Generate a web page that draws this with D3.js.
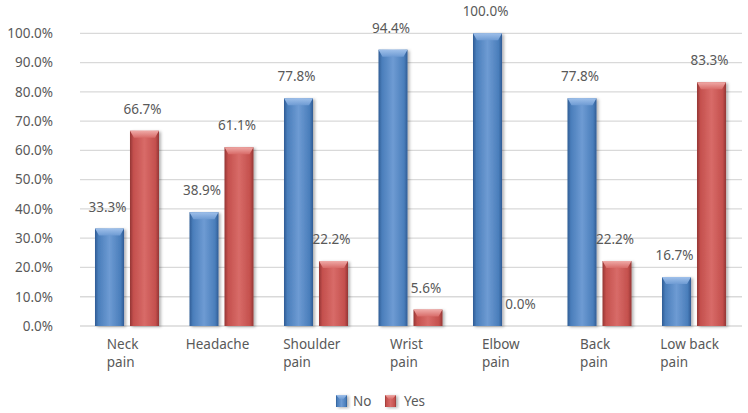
<!DOCTYPE html>
<html>
<head>
<meta charset="utf-8">
<script src="https://cdn.jsdelivr.net/npm/d3@7"></script>
<style>
  body { margin: 0; background: #fff; }
  text { font-family: "Noto Sans", sans-serif; fill: #595959; }
</style>
</head>
<body>
<div id="chart"></div>
<script>
// values
const categories = ["Neck pain", "Headache", "Shoulder pain", "Wrist pain", "Elbow pain", "Back pain", "Low back pain"];
const categoryLines = [["Neck", "pain"], ["Headache"], ["Shoulder", "pain"], ["Wrist", "pain"], ["Elbow", "pain"], ["Back", "pain"], ["Low back", "pain"]];
const series = ["No", "Yes"];
const noValues = [33.3, 38.9, 77.8, 94.4, 100.0, 77.8, 16.7];
const yesValues = [66.7, 61.1, 22.2, 5.6, 0.0, 22.2, 83.3];
const yTicks = [0, 10, 20, 30, 40, 50, 60, 70, 80, 90, 100];

const w = 748, h = 413;

const colors = {
  No:  { base: "#4a7ebb", dark: "#2f5c95", light: "#6e9bd3", top: "#9fc0ea" },
  Yes: { base: "#c4504d", dark: "#943634", light: "#d86b68", top: "#efaaa7" }
};

const svg = d3.select("#chart").append("svg")
  .attr("width", w)
  .attr("height", h);

const defs = svg.append("defs");
series.forEach(s => {
  const c = colors[s];
  const g = defs.append("linearGradient").attr("id", "body-" + s)
    .attr("x1", 0).attr("x2", 1).attr("y1", 0).attr("y2", 0);
  g.append("stop").attr("offset", "0%").attr("stop-color", c.dark);
  g.append("stop").attr("offset", "12%").attr("stop-color", c.base);
  g.append("stop").attr("offset", "50%").attr("stop-color", c.light);
  g.append("stop").attr("offset", "88%").attr("stop-color", c.base);
  g.append("stop").attr("offset", "100%").attr("stop-color", c.dark);
  const t = defs.append("linearGradient").attr("id", "top-" + s)
    .attr("x1", 0).attr("x2", 0).attr("y1", 0).attr("y2", 1);
  t.append("stop").attr("offset", "0%").attr("stop-color", c.top);
  t.append("stop").attr("offset", "100%").attr("stop-color", c.light);
});
const shadow = defs.append("filter").attr("id", "shadow")
  .attr("x", "-20%").attr("y", "-10%").attr("width", "150%").attr("height", "130%");
shadow.append("feDropShadow").attr("dx", 2).attr("dy", 1).attr("stdDeviation", 1.5)
  .attr("flood-color", "#000").attr("flood-opacity", 0.3);

const x0 = d3.scaleBand()
  .domain(categories)
  .range([80, 741])
  .paddingInner(0.3228)
  .paddingOuter(0.1587);

const x1 = d3.scaleBand()
  .domain(series)
  .range([0, x0.bandwidth()])
  .paddingInner(0.171);

const y = d3.scaleLinear()
  .domain([0, 100])
  .range([326, 33.3]);

// gridlines
svg.append("g")
  .selectAll("line")
  .data(yTicks)
  .enter().append("line")
  .attr("x1", 80)
  .attr("x2", 742)
  .attr("y1", d => y(d))
  .attr("y2", d => y(d))
  .attr("stroke", "#d9d9d9")
  .attr("stroke-width", 1.3);

// y axis
const yAxis = svg.append("g")
  .attr("transform", "translate(56,0)")
  .call(d3.axisLeft(y).tickValues(yTicks).tickSize(0).tickPadding(3).tickFormat(d => d.toFixed(1) + "%"));
yAxis.select(".domain").remove();
yAxis.selectAll("text").style("font-size", "13.5px").style("fill", "#595959")
  .style("font-family", "'Noto Sans', sans-serif");

const rows = categories.map((c, i) => ({ cat: c, values: [
  { s: "No", v: noValues[i] }, { s: "Yes", v: yesValues[i] }
]}));

const groups = svg.append("g").selectAll("g")
  .data(rows)
  .enter().append("g")
  .attr("transform", d => "translate(" + x0(d.cat) + ",0)");

const bars = groups.selectAll("g.bar")
  .data(d => d.values)
  .enter().append("g")
  .attr("class", "bar");

const bw = x1.bandwidth();
const bevel = 7;

bars.filter(d => d.v > 0)
  .append("rect")
  .attr("x", d => x1(d.s))
  .attr("y", d => y(d.v))
  .attr("width", bw)
  .attr("height", d => y(0) - y(d.v))
  .attr("fill", d => "url(#body-" + d.s + ")")
  .attr("filter", "url(#shadow)");

bars.filter(d => d.v > 0)
  .append("path")
  .attr("d", d => {
    const xa = x1(d.s), xb = xa + bw, yt = y(d.v);
    const bh = Math.min(bevel, (y(0) - yt) / 2);
    return "M" + xa + "," + yt + "L" + xb + "," + yt +
      "L" + (xb - 4) + "," + (yt + bh) + "L" + (xa + 4) + "," + (yt + bh) + "Z";
  })
  .attr("fill", d => "url(#top-" + d.s + ")");

// value labels
bars.append("text")
  .attr("x", d => x1(d.s) + bw / 2 - 2)
  .attr("y", d => y(d.v) - 17)
  .attr("text-anchor", "middle")
  .style("font-size", "13.5px")
  .text(d => d.v.toFixed(1) + "%");

// category labels, lines left aligned inside a centered block
groups.each(function(d, i) {
  const g = d3.select(this);
  const t = g.append("text")
    .style("font-size", "13.5px");
  categoryLines[i].forEach((line, j) => {
    t.append("tspan")
      .attr("x", 0)
      .attr("y", 349 + j * 18)
      .text(line);
  });
  const bw2 = t.node().getBBox().width;
  t.attr("transform", "translate(" + (x0.bandwidth() / 2 - 4 - bw2 / 2) + ",0)");
});

// legend
const legend = svg.append("g").attr("transform", "translate(336,395)");
const items = legend.selectAll("g")
  .data(series)
  .enter().append("g")
  .attr("transform", (d, i) => "translate(" + (i * 49) + ",0)");
items.append("rect")
  .attr("width", 11)
  .attr("height", 12)
  .attr("fill", d => "url(#body-" + d + ")")
  .attr("filter", "url(#shadow)");
items.append("path")
  .attr("d", "M0,0L11,0L7.5,4L3.5,4Z")
  .attr("fill", d => "url(#top-" + d + ")");
items.append("text")
  .attr("x", (d, i) => i === 0 ? 17 : 19)
  .attr("y", 6)
  .attr("dy", "0.35em")
  .style("font-size", "13.5px")
  .text(d => d);
</script>
</body>
</html>
